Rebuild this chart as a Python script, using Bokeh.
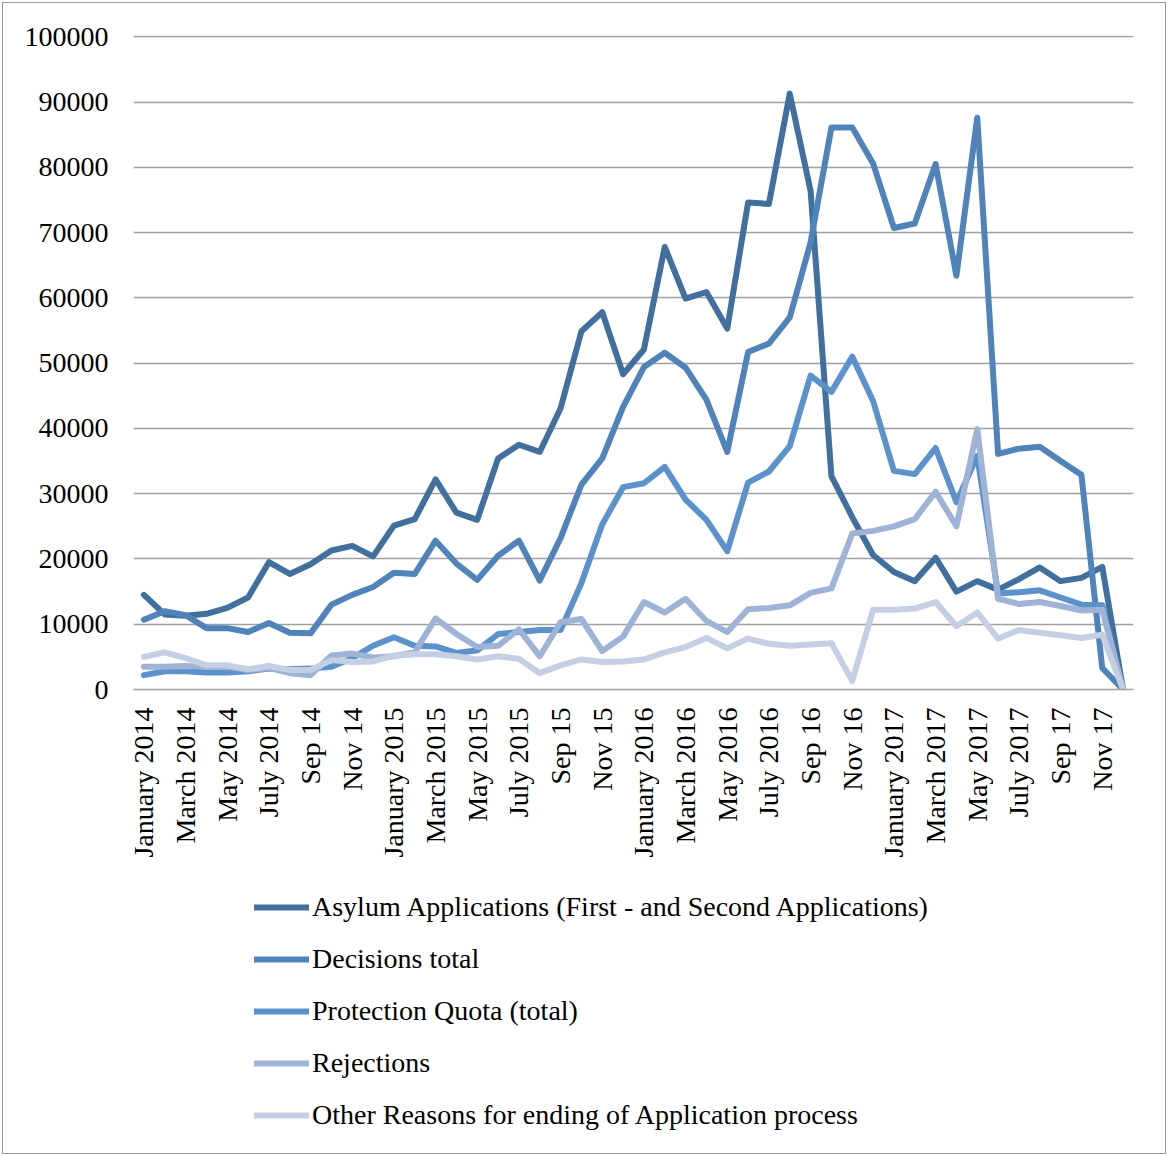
import numpy as np
from bokeh.plotting import figure
from bokeh.layouts import column
from bokeh.models import Range1d, FixedTicker, Legend, LegendItem, NumeralTickFormatter
from bokeh.embed import file_html
from bokeh.resources import INLINE

# Monthly categories, January 2014 - December 2017
months = [f"{y}-{m:02d}" for y in (2014, 2015, 2016, 2017) for m in range(1, 13)]

tick_labels = [
    "January 2014", "March 2014", "May 2014", "July 2014", "Sep 14", "Nov 14",
    "January 2015", "March 2015", "May 2015", "July 2015", "Sep 15", "Nov 15",
    "January 2016", "March 2016", "May 2016", "July 2016", "Sep 16", "Nov 16",
    "January 2017", "March 2017", "May 2017", "July 2017", "Sep 17", "Nov 17",
]

asylum_applications = [
    14500, 11500, 11300, 11600, 12500, 14100, 19500, 17700, 19200, 21300, 22000, 20400,
    25100, 26100, 32200, 27100, 26000, 35400, 37500, 36400, 43100, 54900, 57800, 48300,
    52100, 67800, 59900, 60900, 55300, 74600, 74400, 91300, 76400, 32700, 26400, 20600,
    18000, 16600, 20200, 15000, 16600, 15300, 16900, 18700, 16600, 17100, 18800, 0,
]
decisions_total = [
    10700, 12000, 11400, 9400, 9400, 8800, 10200, 8700, 8600, 13000, 14500, 15700,
    17900, 17700, 22800, 19300, 16800, 20500, 22800, 16700, 23200, 31400, 35400, 43300,
    49400, 51600, 49300, 44400, 36400, 51700, 53000, 57000, 68500, 86100, 86100, 80600,
    70700, 71400, 80500, 63400, 87600, 36100, 36900, 37200, 35000, 32900, 3300, 0,
]
protection_quota = [
    2200, 2800, 2800, 2600, 2600, 2800, 3200, 3100, 3200, 3500, 4800, 6700,
    8000, 6700, 6600, 5600, 6000, 8500, 8800, 9100, 9100, 16300, 25300, 31000,
    31600, 34100, 29100, 26000, 21200, 31700, 33400, 37300, 48100, 45600, 51000, 44200,
    33500, 33000, 37000, 28700, 35800, 14700, 14900, 15200, 14100, 13000, 12900, 0,
]
rejections = [
    3500, 3500, 3600, 3500, 3500, 3000, 3300, 2500, 2200, 5200, 5500, 4900,
    5100, 5700, 10900, 8500, 6500, 6700, 9200, 5100, 10300, 10800, 5900, 8100,
    13400, 11800, 13900, 10500, 8800, 12300, 12500, 12900, 14800, 15500, 23900, 24300,
    25000, 26100, 30300, 25000, 39900, 13900, 13100, 13400, 12800, 12100, 12200, 0,
]
other_reasons = [
    5000, 5700, 4800, 3700, 3700, 3100, 3600, 3000, 3000, 4500, 4200, 4300,
    5200, 5400, 5400, 5100, 4600, 5100, 4700, 2500, 3700, 4600, 4200, 4300,
    4600, 5700, 6500, 7900, 6300, 7800, 7000, 6700, 6900, 7100, 1300, 12200,
    12200, 12400, 13400, 9700, 11800, 7800, 9100, 8700, 8300, 7900, 8400, 0,
]

series = [
    ("Asylum Applications (First - and Second Applications)", asylum_applications, "#41709f"),
    ("Decisions total", decisions_total, "#4f83b9"),
    ("Protection Quota (total)", protection_quota, "#5b92cc"),
    ("Rejections", rejections, "#9fb3d6"),
    ("Other Reasons for ending of Application process", other_reasons, "#c4cfe3"),
]

FONT = "Liberation Serif"
FONT_SIZE = "28px"
LINE_W = 6
x = list(range(len(months)))

# ---- main chart ----
p = figure(
    width=1168, height=870,
    x_range=Range1d(-0.5, len(months) - 0.5),
    y_range=Range1d(0, 100200),
    output_backend="svg", toolbar_location=None,
    min_border_left=133, min_border_right=35,
    min_border_top=35, min_border_bottom=181,
)
p.outline_line_color = None
p.background_fill_color = "white"
p.border_fill_alpha = 0

p.yaxis.ticker = FixedTicker(ticks=list(range(0, 100001, 10000)))
p.yaxis.formatter = NumeralTickFormatter(format="0")
p.yaxis.axis_line_color = None
p.yaxis.major_tick_line_color = None
p.yaxis.minor_tick_line_color = None
p.yaxis.major_label_standoff = 19
p.yaxis.major_label_text_font = FONT
p.yaxis.major_label_text_font_size = FONT_SIZE
p.yaxis.major_label_text_color = "black"

tick_pos = list(range(0, len(months), 2))
p.xaxis.ticker = FixedTicker(ticks=tick_pos)
p.xaxis.major_label_overrides = {i: lab for i, lab in zip(tick_pos, tick_labels)}
p.xaxis.major_label_orientation = np.pi / 2
p.xaxis.axis_line_color = "#a0a0a0"
p.xaxis.axis_line_width = 1.5
p.xaxis.major_tick_line_color = None
p.xaxis.minor_tick_line_color = None
p.xaxis.major_label_standoff = 12
p.xaxis.major_label_text_font = FONT
p.xaxis.major_label_text_font_size = FONT_SIZE
p.xaxis.major_label_text_color = "black"

p.xgrid.grid_line_color = None
p.ygrid.grid_line_color = "#a0a0a0"
p.ygrid.grid_line_width = 1.5

for label, values, color in series:
    p.line(x, values, line_color=color, line_width=LINE_W, line_join="round", line_cap="round")

# ---- legend panel below the chart ----
lg = figure(
    width=1168, height=286,
    x_range=Range1d(0, 1), y_range=Range1d(0, 1),
    output_backend="svg", toolbar_location=None,
    x_axis_location=None, y_axis_location=None,
    min_border=0,
)
lg.outline_line_color = None
lg.grid.grid_line_color = None
lg.border_fill_alpha = 0
lg.background_fill_alpha = 0

# legend swatches: lines kept outside the visible range
items = []
for label, values, color in series:
    r = lg.line([5, 6], [5, 6], line_color=color, line_width=LINE_W, line_cap="round")
    items.append(LegendItem(label=label, renderers=[r]))

legend = Legend(
    items=items, location=(121, 25), orientation="vertical",
    glyph_width=55, glyph_height=30, label_height=30, spacing=20,
    padding=0, margin=0, label_standoff=3,
    label_text_font=FONT, label_text_font_size=FONT_SIZE, label_text_color="black",
    border_line_color=None, background_fill_alpha=0,
)
lg.add_layout(legend)

layout = column(p, lg, spacing=0,
                styles={"outline": "1px solid #9a9a9a", "outline-offset": "-3px"})

open("out.html", "w").write(file_html(layout, INLINE))
